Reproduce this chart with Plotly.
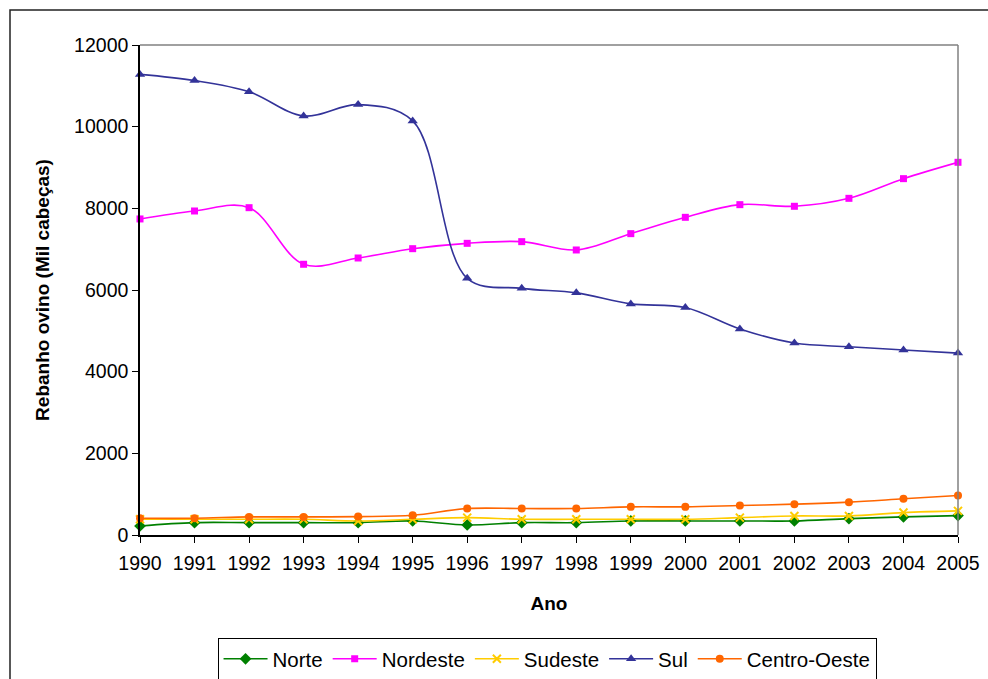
import plotly.graph_objects as go

years = list(range(1990, 2006))

norte = [221, 303, 303, 303, 303, 344, 246, 303, 303, 344, 344, 344, 344, 401, 443, 475]
nordeste = [7740, 7935, 8016, 6630, 6784, 7012, 7143, 7184, 6980, 7380, 7780, 8090, 8050, 8245, 8727, 9127]
sudeste = [385, 385, 385, 385, 344, 385, 426, 385, 385, 385, 385, 426, 467, 467, 549, 590]
sul = [11280, 11130, 10857, 10262, 10540, 10140, 6287, 6040, 5930, 5660, 5570, 5045, 4700, 4610, 4530, 4455]
centro_oeste = [411, 411, 443, 443, 451, 484, 648, 648, 648, 689, 689, 722, 755, 804, 886, 968]

y_ticks = [0, 2000, 4000, 6000, 8000, 10000, 12000]

series = [
    ("Norte", norte, "#008000", "diamond", 9),
    ("Nordeste", nordeste, "#FF00FF", "square", 7),
    ("Sudeste", sudeste, "#FFCC00", "x-thin", 8),
    ("Sul", sul, "#333399", "triangle-up", 9),
    ("Centro-Oeste", centro_oeste, "#FF6600", "circle", 8),
]

fig = go.Figure()
for name, vals, color, sym, size in series:
    marker = dict(symbol=sym, size=size, color=color)
    if sym == "x-thin":
        marker["line"] = dict(color=color, width=2)
    fig.add_trace(go.Scatter(
        x=years, y=vals, name=name, mode="lines+markers",
        line=dict(color=color, width=1.6, shape="spline", smoothing=1),
        marker=marker, cliponaxis=False,
    ))

FONT = "Liberation Sans, Arial, sans-serif"

fig.update_layout(
    width=988, height=679,
    margin=dict(l=140, r=30, t=45, b=144, autoexpand=False),
    paper_bgcolor="white", plot_bgcolor="white",
    font=dict(family=FONT, size=20, color="black"),
    showlegend=True,
    legend=dict(
        orientation="h", x=0.4976, xanchor="center", y=-0.2102, yanchor="top",
        bordercolor="black", borderwidth=1, font=dict(size=20.5, family=FONT),
        tracegroupgap=0, itemwidth=44,
    ),
    xaxis=dict(
        range=[1990, 2005], tickmode="array", tickvals=years,
        ticktext=[str(y) for y in years],
        showgrid=False, zeroline=False, showline=True, linecolor="black", linewidth=1.5,
        ticks="outside", ticklen=6, tickcolor="black", tickfont=dict(size=19.5),
        ticklabelstandoff=4,
        title=dict(text="<b>Ano</b>", font=dict(size=19), standoff=24),
    ),
    yaxis=dict(
        range=[0, 12000], tickmode="array", tickvals=y_ticks,
        ticktext=[str(v) for v in y_ticks],
        showgrid=False, zeroline=False, showline=True, linecolor="black", linewidth=1.5,
        ticks="outside", ticklen=6, tickcolor="black", tickfont=dict(size=19.5),
        title=dict(text="<b>Rebanho ovino (Mil cabeças)</b>", font=dict(size=19), standoff=19),
    ),
    shapes=[
        dict(type="line", xref="paper", yref="paper", x0=0, x1=1, y0=1, y1=1,
             line=dict(color="#808080", width=1.5)),
        dict(type="line", xref="paper", yref="paper", x0=1, x1=1, y0=0, y1=1,
             line=dict(color="#808080", width=1.5)),
        dict(type="rect", xref="paper", yref="paper",
             x0=(10 - 140) / 818, x1=(1010 - 140) / 818,
             y0=(535 - 700) / 490, y1=(535 - 10) / 490,
             line=dict(color="#222222", width=1.5), fillcolor="rgba(0,0,0,0)", layer="below"),
    ],
)

fig.write_html(
    "out.html",
    config={"displayModeBar": False},
    post_script="document.body.style.margin='0px';document.body.style.overflow='hidden';",
)
